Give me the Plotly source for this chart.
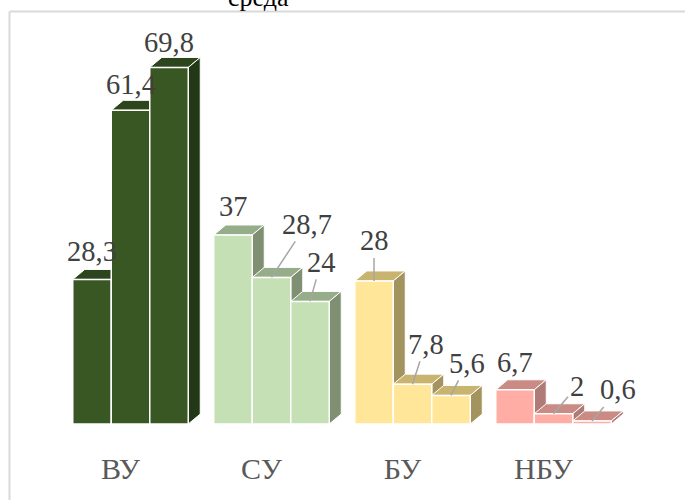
import plotly.graph_objects as go

categories = ["ВУ", "СУ", "БУ", "НБУ"]
series_1 = [28.3, 37, 28, 6.7]
series_2 = [61.4, 28.7, 7.8, 2]
series_3 = [69.8, 24, 5.6, 0.6]
series = [series_1, series_2, series_3]
title_text = "среда"

front_colors = ["#385723", "#C5E0B4", "#FFE699", "#FFADA5"]
top_colors = ["#2C451C", "#95AD88", "#C9B46F", "#C98B84"]
side_colors = ["#233817", "#7E8F72", "#A3935F", "#AE7B76"]

W, H = 685, 500
PLOT_H = 424
X0_PX = 120.5
UNIT_PX = 141.0
Y_MAX = 83.0
px_per_y = PLOT_H / Y_MAX
bar_w = 38.5 / UNIT_PX
group_shift = 10 / UNIT_PX
dx = 12 / UNIT_PX
dy = 10 / px_per_y

# label offsets in px: (ax, ay, leader)
label_offsets = [
    [(0, -28, False), (0, -28, False), (0, -40, True), (0, -27, False)],
    [(0, -26, False), (35, -53, True), (13, -40, True), (23, -27, True)],
    [(0, -25, False), (11, -39, True), (16, -32, True), (26, -31, True)],
]

fig = go.Figure()
shapes = []
annotations = []

def xpos(ci, si):
    return ci + group_shift + (si - 1) * bar_w

for si, vals in enumerate(series):
    xs = [xpos(ci, si) for ci in range(len(categories))]
    fig.add_trace(go.Bar(
        x=xs, y=vals, width=bar_w,
        marker=dict(color=front_colors, line=dict(color="white", width=1.5)),
        showlegend=False, hoverinfo="y",
    ))

for ci in range(len(categories)):
    for si, vals in enumerate(series):
        h = vals[ci]
        xc = xpos(ci, si)
        xl, xr = xc - bar_w / 2, xc + bar_w / 2
        shapes.append(dict(
            type="path", xref="x", yref="y", layer="between",
            path=f"M {xl},{h} L {xr},{h} L {xr+dx},{h+dy} L {xl+dx},{h+dy} Z",
            fillcolor=top_colors[ci], line=dict(color="white", width=1),
        ))
        shapes.append(dict(
            type="path", xref="x", yref="y", layer="between",
            path=f"M {xr},0 L {xr+dx},{dy} L {xr+dx},{h+dy} L {xr},{h} Z",
            fillcolor=side_colors[ci], line=dict(color="white", width=1),
        ))
        ax, ay, leader = label_offsets[si][ci]
        annotations.append(dict(
            x=xc, y=h, xref="x", yref="y",
            text=str(h).replace(".", ","),
            showarrow=True, ax=ax, ay=ay, arrowhead=0,
            arrowwidth=1.5,
            arrowcolor="#A6A6A6" if leader else "rgba(0,0,0,0)",
            font=dict(family="Liberation Serif", size=28.5, color="#404040"),
            xanchor="center", yanchor="middle",
        ))

# chart border (top and left visible)
bx = 9.5 / W
by = (PLOT_H - 11.5) / PLOT_H
ybot = (PLOT_H - H) / PLOT_H
shapes.append(dict(type="line", xref="paper", yref="paper", x0=bx, x1=1.01, y0=by, y1=by,
                   line=dict(color="#D9D9D9", width=2)))
shapes.append(dict(type="line", xref="paper", yref="paper", x0=bx, x1=bx, y0=by, y1=ybot,
                   line=dict(color="#D9D9D9", width=2)))

annotations.append(dict(
    x=258 / W, y=(PLOT_H + 3) / PLOT_H, xref="paper", yref="paper",
    text=title_text, showarrow=False, xanchor="center", yanchor="middle",
    font=dict(family="Liberation Serif", size=26, color="#000000"),
))

fig.update_layout(
    width=W, height=H,
    margin=dict(l=0, r=0, t=0, b=H - PLOT_H),
    paper_bgcolor="white", plot_bgcolor="white",
    barmode="overlay",
    shapes=shapes, annotations=annotations,
    xaxis=dict(
        range=[-X0_PX / UNIT_PX, (W - X0_PX) / UNIT_PX],
        tickvals=list(range(len(categories))), ticktext=categories,
        tickfont=dict(family="Liberation Serif", size=30, color="#595959"),
        showgrid=False, zeroline=False, showline=False, ticks="",
        ticklabelstandoff=24,
    ),
    yaxis=dict(range=[0, Y_MAX], visible=False, showgrid=False, zeroline=False),
)

fig.write_html(
    "out.html",
    config={"displayModeBar": False},
    post_script="document.body.style.margin='0';document.body.style.overflow='hidden';",
)
